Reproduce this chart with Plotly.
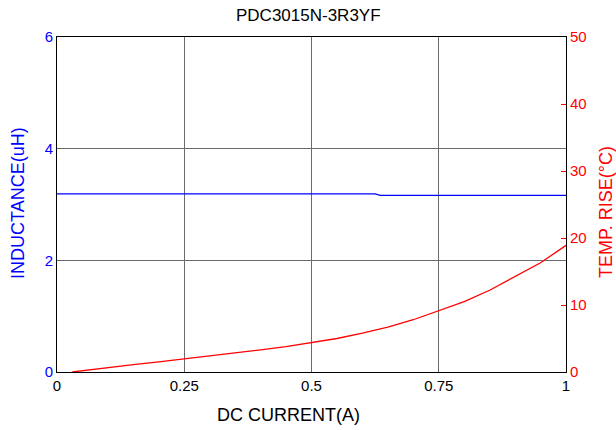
import plotly.graph_objects as go

# Data
current_L = [0.0, 0.25, 0.5, 0.625, 0.635, 0.75, 1.0]
inductance = [3.19, 3.19, 3.19, 3.19, 3.165, 3.165, 3.165]

current_T = [0.03, 0.05, 0.1, 0.15, 0.2, 0.25, 0.3, 0.35, 0.4, 0.45, 0.5,
             0.55, 0.6, 0.65, 0.7, 0.75, 0.8, 0.85, 0.9, 0.95, 1.0]
temp_rise = [0.0, 0.2, 0.7, 1.1, 1.5, 1.95, 2.3, 2.8, 3.3, 3.8, 4.4,
             5.0, 5.8, 6.7, 7.8, 9.1, 10.5, 12.2, 14.2, 16.3, 18.9]

x_ticks = [0, 0.25, 0.5, 0.75, 1]
x_ticktext = ["0", "0.25", "0.5", "0.75", "1"]
yL_ticks = [0, 2, 4, 6]
yR_ticks = [0, 10, 20, 30, 40, 50]

FONT = "Liberation Sans, Arial, sans-serif"
BLUE = "#0000ff"
RED = "#ff0000"
GRID = "#6a6a6a"

W, H = 616, 430
L, R, T, B = 57, 50, 37, 58
PW, PH = W - L - R, H - T - B


def px(xpix):
    return (xpix - L) / PW


def py(ypix):
    return (H - B - ypix) / PH


fig = go.Figure()
fig.add_trace(go.Scatter(x=current_L, y=inductance, mode="lines",
                         line=dict(color=BLUE, width=1.3), yaxis="y",
                         showlegend=False, hoverinfo="skip"))
fig.add_trace(go.Scatter(x=current_T, y=temp_rise, mode="lines",
                         line=dict(color=RED, width=1.3), yaxis="y2",
                         showlegend=False, hoverinfo="skip"))

fig.update_layout(
    width=W, height=H,
    margin=dict(l=L, r=R, t=T, b=B, autoexpand=False),
    paper_bgcolor="white", plot_bgcolor="white",
    font=dict(family=FONT, size=15, color="black"),
    xaxis=dict(range=[0, 1], tickvals=x_ticks, ticktext=x_ticktext,
               showgrid=True, gridcolor=GRID, gridwidth=1,
               showline=True, linecolor="black", linewidth=1, mirror=True,
               ticks="", zeroline=False, automargin=False,
               tickfont=dict(size=15, color="black")),
    yaxis=dict(range=[0, 6], tickvals=yL_ticks,
               showgrid=True, gridcolor=GRID, gridwidth=1,
               showline=True, linecolor="black", linewidth=1,
               ticks="", zeroline=False, automargin=False,
               tickfont=dict(size=15, color=BLUE)),
    yaxis2=dict(range=[0, 50], tickvals=yR_ticks, overlaying="y",
                side="right", showgrid=False, zeroline=False,
                showline=True, linecolor="black", linewidth=1,
                ticks="inside", ticklen=5, tickcolor=RED, automargin=False,
                tickfont=dict(size=15, color=RED)),
    annotations=[
        dict(text="PDC3015N-3R3YF", xref="paper", yref="paper",
             x=px(308.5), y=py(16), xanchor="center", yanchor="middle",
             showarrow=False, font=dict(size=17, color="black")),
        dict(text="DC CURRENT(A)", xref="paper", yref="paper",
             x=px(288), y=py(415), xanchor="center", yanchor="middle",
             showarrow=False, font=dict(size=18, color="black")),
        dict(text="INDUCTANCE(uH)", xref="paper", yref="paper",
             x=px(18), y=py(203), xanchor="center", yanchor="middle",
             textangle=-90, showarrow=False,
             font=dict(size=18, color=BLUE)),
        dict(text="TEMP. RISE(°C)", xref="paper", yref="paper",
             x=px(606), y=py(212), xanchor="center", yanchor="middle",
             textangle=-90, showarrow=False,
             font=dict(size=18, color=RED)),
    ],
)

fig.write_html(
    "out.html",
    config={"displayModeBar": False, "staticPlot": True},
    post_script="document.body.style.margin='0';document.body.style.overflow='hidden';",
)
